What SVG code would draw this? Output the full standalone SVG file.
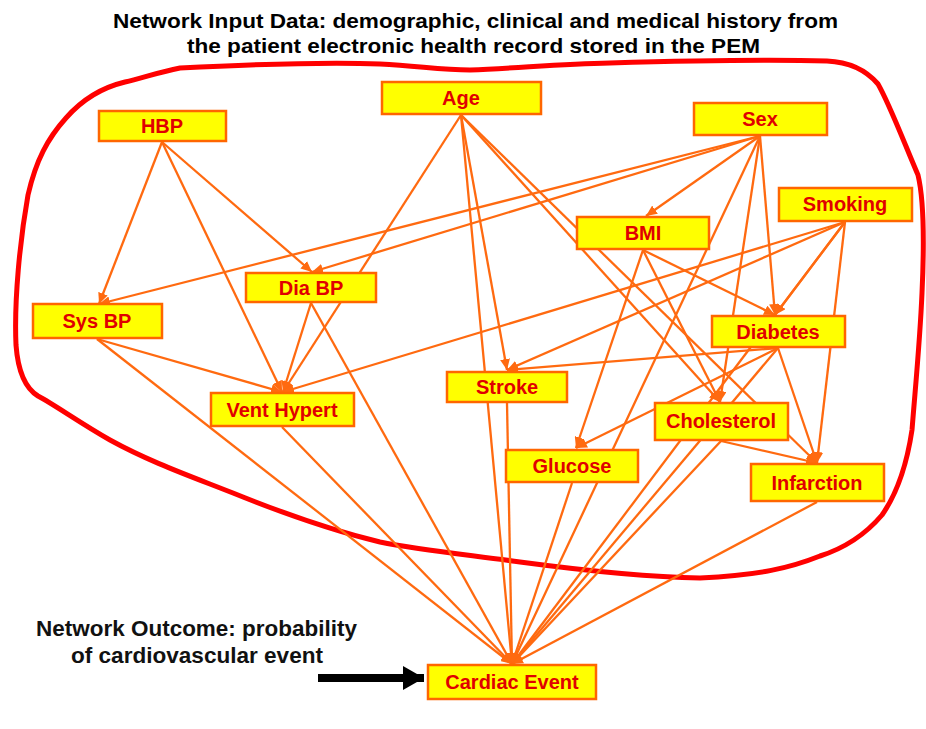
<svg xmlns="http://www.w3.org/2000/svg" width="926" height="729" viewBox="0 0 926 729">
<style>
.title{font-family:"Liberation Sans",Arial,sans-serif;font-weight:bold;font-size:21px;fill:#000}
.note{font-family:"Liberation Sans",Arial,sans-serif;font-weight:bold;font-size:22px;fill:#111}
.box{fill:#FFFF00;stroke:#FF6600;stroke-width:2.5}
.lbl{font-family:"Liberation Sans",Arial,sans-serif;font-weight:bold;font-size:20px;fill:#E00000;text-anchor:middle}
.edge{stroke:#FF6A10;stroke-width:2.3;fill:none;marker-end:url(#arr)}
.loop{fill:none;stroke:#FF0000;stroke-width:5;stroke-linejoin:round}
</style>
<defs>
<marker id="arr" markerUnits="userSpaceOnUse" markerWidth="12" markerHeight="10" refX="11" refY="5" orient="auto">
<path d="M0,0 L11,5 L0,10 Z" fill="#FF6A10"/>
</marker>
<marker id="blk" markerUnits="userSpaceOnUse" markerWidth="22" markerHeight="24" refX="21" refY="12" orient="auto">
<path d="M0,0 L21,12 L0,24 Z" fill="#000"/>
</marker>
</defs>
<rect width="926" height="729" fill="#fff"/>
<g id="title">
<text class="title" x="113" y="28" textLength="725" lengthAdjust="spacingAndGlyphs">Network Input Data: demographic, clinical and medical history from</text>
<text class="title" x="187" y="53" textLength="573" lengthAdjust="spacingAndGlyphs">the patient electronic health record stored in the PEM</text>
</g>
<path id="outline" class="loop" d="M180,68 C260,64 330,62 380,64 C420,66 440,70 470,70 C520,68 560,64 610,63 C680,61 760,59 827,61 C850,62 866,70 878,84 C890,105 905,145 918,175 C924,200 924,250 922,293 C920,340 916,380 912,430 C906,470 896,495 882,515 C865,535 845,548 820,556 C790,568 760,575 700,578 C640,577 580,570 520,562 C470,555 420,550 380,542 C330,530 280,512 233,493 C190,476 150,462 110,440 C80,423 55,405 38,396 C25,388 18,372 16,345 C14,300 20,240 28,195 C36,160 48,138 66,118 C80,102 100,88 125,82 C145,77 160,72 180,68 Z"/>
<g id="connectors">
<line class="edge" x1="162" y1="142" x2="99" y2="304"/>
<line class="edge" x1="162" y1="142" x2="282" y2="392"/>
<line class="edge" x1="162" y1="142" x2="312" y2="272"/>
<line class="edge" x1="461" y1="115" x2="283" y2="392"/>
<line class="edge" x1="461" y1="115" x2="507" y2="370"/>
<line class="edge" x1="461" y1="115" x2="512" y2="664"/>
<line class="edge" x1="461" y1="115" x2="720" y2="402"/>
<line class="edge" x1="461" y1="115" x2="817" y2="463"/>
<line class="edge" x1="760" y1="136" x2="99" y2="304"/>
<line class="edge" x1="760" y1="136" x2="312" y2="272"/>
<line class="edge" x1="760" y1="136" x2="646" y2="216"/>
<line class="edge" x1="760" y1="136" x2="775" y2="315"/>
<line class="edge" x1="760" y1="136" x2="720" y2="402"/>
<line class="edge" x1="760" y1="136" x2="512" y2="664"/>
<line class="edge" x1="845" y1="222" x2="283" y2="392"/>
<line class="edge" x1="845" y1="222" x2="507" y2="370"/>
<line class="edge" x1="845" y1="222" x2="775" y2="315"/>
<line class="edge" x1="845" y1="222" x2="817" y2="463"/>
<line class="edge" x1="845" y1="222" x2="512" y2="664"/>
<line class="edge" x1="643" y1="250" x2="576" y2="448"/>
<line class="edge" x1="643" y1="250" x2="775" y2="315"/>
<line class="edge" x1="643" y1="250" x2="720" y2="402"/>
<line class="edge" x1="311" y1="303" x2="283" y2="392"/>
<line class="edge" x1="311" y1="303" x2="512" y2="664"/>
<line class="edge" x1="97" y1="339" x2="282" y2="392"/>
<line class="edge" x1="97" y1="339" x2="512" y2="664"/>
<line class="edge" x1="282" y1="427" x2="512" y2="664"/>
<line class="edge" x1="507" y1="403" x2="512" y2="664"/>
<line class="edge" x1="778" y1="348" x2="507" y2="370"/>
<line class="edge" x1="778" y1="348" x2="576" y2="448"/>
<line class="edge" x1="778" y1="348" x2="512" y2="664"/>
<line class="edge" x1="778" y1="348" x2="817" y2="463"/>
<line class="edge" x1="721" y1="441" x2="817" y2="463"/>
<line class="edge" x1="721" y1="441" x2="512" y2="664"/>
<line class="edge" x1="572" y1="483" x2="512" y2="664"/>
<line class="edge" x1="817" y1="502" x2="512" y2="664"/>
</g>
<g id="n-hbp"><rect class="box" x="99" y="111" width="127" height="30"/><text class="lbl" x="162" y="133">HBP</text></g>
<g id="n-age"><rect class="box" x="382" y="82" width="159" height="32"/><text class="lbl" x="461" y="105">Age</text></g>
<g id="n-sex"><rect class="box" x="694" y="103" width="133" height="32"/><text class="lbl" x="760" y="126">Sex</text></g>
<g id="n-smoking"><rect class="box" x="779" y="188" width="133" height="33"/><text class="lbl" x="845" y="211">Smoking</text></g>
<g id="n-bmi"><rect class="box" x="577" y="217" width="132" height="32"/><text class="lbl" x="643" y="240">BMI</text></g>
<g id="n-diabp"><rect class="box" x="246" y="273" width="130" height="29"/><text class="lbl" x="311" y="295">Dia BP</text></g>
<g id="n-sysbp"><rect class="box" x="33" y="304" width="129" height="34"/><text class="lbl" x="97" y="328">Sys BP</text></g>
<g id="n-diabetes"><rect class="box" x="712" y="316" width="133" height="31"/><text class="lbl" x="778" y="339">Diabetes</text></g>
<g id="n-stroke"><rect class="box" x="447" y="372" width="120" height="30"/><text class="lbl" x="507" y="394">Stroke</text></g>
<g id="n-vent"><rect class="box" x="211" y="393" width="143" height="33"/><text class="lbl" x="282" y="417">Vent Hypert</text></g>
<g id="n-chol"><rect class="box" x="655" y="403" width="133" height="37"/><text class="lbl" x="721" y="428">Cholesterol</text></g>
<g id="n-glucose"><rect class="box" x="506" y="450" width="132" height="32"/><text class="lbl" x="572" y="473">Glucose</text></g>
<g id="n-infarction"><rect class="box" x="751" y="464" width="133" height="37"/><text class="lbl" x="817" y="490">Infarction</text></g>
<g id="n-cardiac"><rect class="box" x="428" y="665" width="168" height="34"/><text class="lbl" x="512" y="689">Cardiac Event</text></g>
<g id="outcome">
<text class="note" x="36" y="636" textLength="321" lengthAdjust="spacingAndGlyphs">Network Outcome: probability</text>
<text class="note" x="71" y="663" textLength="252" lengthAdjust="spacingAndGlyphs">of cardiovascular event</text>
<line x1="318" y1="678" x2="424" y2="678" stroke="#000" stroke-width="8" marker-end="url(#blk)"/>
</g>
</svg>
